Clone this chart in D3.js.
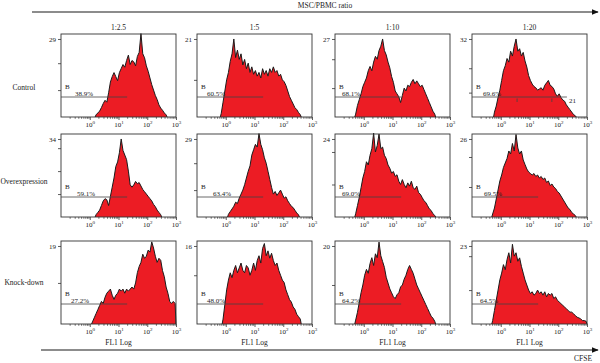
<!DOCTYPE html>
<html>
<head>
<meta charset="utf-8">
<script src="https://cdn.jsdelivr.net/npm/d3@7"></script>
<style>
  body { margin: 0; background: #fff; }
  svg text { font-family: "Liberation Serif", "Times New Roman", serif; fill: #222; }
</style>
</head>
<body>
<svg id="chart" width="600" height="363"></svg>
<script>
// column / row headings
const ratios = ["1:2.5", "1:5", "1:10", "1:20"];
const groups = ["Control", "Overexpression", "Knock-down"];
// max count printed on each y axis
const yMaxLabel = [[29, 21, 27, 32], [34, 29, 24, 26], [19, 16, 20, 23]];
// percent inside gate B
const gateLabel = [
    ["38.9%", "60.5%", "68.1%", "69.6%"],
    ["59.1%", "63.4%", "69.0%", "69.5%"],
    ["27.2%", "48.0%", "64.2%", "64.5%"]
];
// right end of gate B (FL1 value)
const gateEnd = [[20, 20, 20, 200], [20, 20, 20, 20], [20, 20, 20, 20]];
const decades = [1, 10, 100, 1000];
const decadeExp = ["0", "1", "2", "3"];

// histogram counts, 16 channels per decade starting at 10^-1
const firstBin = [[19, 13, 11, 12], [19, 17, 11, 11], [17, 14, 11, 11]];

const control_2_5 = [0.8, 1.5, 2.2, 3.5, 5, 6.2, 5.5, 9, 13, 15, 16.5, 15, 13.5, 16.5, 18, 19.5, 18.5, 21, 23, 19.5,
    21, 20.5, 19, 22.5, 24, 31, 23.5, 22, 19, 17, 14.5, 12, 10, 8, 6.5, 4.5, 3.3, 2.5, 1.5, 0.8];
const control_5 = [1, 4, 7, 10, 12, 15, 17, 21, 16, 18, 15.5, 17, 14, 15.5, 13, 14.5, 12, 13.5, 11.5, 12.5,
    11, 12, 10.5, 13, 11.5, 12.5, 11, 13, 12, 13.5, 12, 12.5, 11, 11.5, 10, 9.5, 8.5, 7, 5.5, 4.5, 3.5, 2.5, 2, 1.2, 0.6];
const control_10 = [1, 4, 6, 8, 10.5, 12, 13.5, 16, 17.5, 16, 19, 21, 20, 23, 24.5, 27, 23, 21.5, 19, 17,
    14, 12, 9, 8, 7, 5, 7.5, 10, 9, 11, 10.5, 12, 13, 11.5, 12.5, 11.5, 10.5, 11, 9.5, 8, 6.5, 5, 3.5, 2, 1];
const control_20 = [2, 4.5, 8, 11, 15, 19, 21, 24, 22.5, 27, 25, 29, 32, 27, 28, 25, 26.5, 23, 20.5, 17,
    15, 13.5, 12.5, 12, 11, 11.5, 12, 11, 13, 14, 15, 13, 12.5, 11.5, 9.5, 8.5, 9.5, 8, 7, 6.5, 5, 4, 3, 2, 1, 0.5];

const over_2_5 = [1, 2, 3, 5, 7, 8, 7.5, 5, 9, 13, 17, 22, 24, 28, 34, 29, 27, 25, 20, 14,
    13, 14, 15.5, 14.5, 15, 13.5, 12, 11, 10, 9, 8, 7, 5.5, 4.5, 3, 2, 1];
const over_5 = [1, 2, 3, 4, 5.5, 5, 7, 8.5, 10, 12, 14.5, 17, 19, 23, 25, 27, 26, 31, 27, 25,
    22, 20, 17, 14, 11, 8.5, 9.5, 8, 9, 10, 8.5, 7, 7.5, 6, 5, 4, 3.5, 2.5, 1.5, 0.8];
const over_10 = [1, 3.5, 6, 9, 12, 14, 17, 16, 19, 21, 25.8, 20, 22, 25.5, 21, 21.5, 19, 18, 16, 15,
    13.5, 14, 12.5, 13, 11, 10, 11.5, 10, 9, 10.5, 9.5, 11, 9, 8.5, 9.5, 7.5, 7, 6, 5, 4.5, 3.5, 2.5, 2, 1, 0.5];
const over_20 = [1, 3, 6, 9, 12, 14, 16.5, 18, 19.5, 22, 21, 24.5, 22, 27.5, 23, 21, 22, 19, 17.5, 16,
    15, 14.5, 14, 14.5, 13.5, 14, 13, 13.5, 12.5, 13, 11.5, 12, 10.5, 11, 10, 9.5, 8.5, 8, 7, 6, 5, 4, 3, 2.5, 1.5, 1, 0.5];

const knock_2_5 = [0.5, 1.5, 2.5, 3.5, 4.5, 5.5, 5, 6.5, 7.5, 8, 8.5, 7, 6, 7, 7.5, 8.5, 8, 8.5, 7.5, 8.5,
    8, 8.5, 9, 8.5, 10, 12.5, 14, 15, 17, 16, 16.5, 18, 17.5, 20, 18.5, 16.5, 15, 16, 15.5, 13,
    11.5, 9, 7.5, 5.5, 5, 5.5, 5];
const knock_5 = [1, 4, 7, 9, 10.5, 9.5, 11, 12, 10.5, 11.5, 12.5, 11, 10.5, 12, 11.5, 10, 11, 12.5, 11, 13,
    14, 12.5, 15.5, 16.5, 14, 15, 13.5, 14.5, 13, 12, 12.5, 11, 10, 9, 8.5, 7, 6, 5, 4.5, 3.5, 3, 2, 1.5, 1];
const knock_10 = [1, 3, 5.5, 8, 10, 12.5, 14, 13, 15.5, 17, 15, 18, 17, 21, 17.5, 16, 14.5, 12, 10.5, 9,
    8, 7, 6.5, 7.5, 8, 9.5, 10, 11.5, 12.5, 14, 15, 14, 13, 11.5, 10, 9, 8, 7, 6, 5, 4, 3, 2, 1.5, 0.7];
const knock_20 = [1, 4, 7, 10, 13, 15, 17.5, 16, 19, 21, 18, 23.5, 20, 21, 18.5, 19.5, 17, 15, 13, 11.5,
    10, 9, 9.5, 8.5, 9, 10, 9, 9.5, 8.5, 9.5, 8, 9, 8.5, 9, 7.5, 8, 7, 6.5, 6, 5.5,
    5, 4.5, 4, 3.5, 3.5, 3, 2.5, 2, 1.8, 1.5, 1, 1, 0.8];

const counts = [
    [control_2_5, control_5, control_10, control_20],
    [over_2_5, over_5, over_10, over_20],
    [knock_2_5, knock_5, knock_10, knock_20]
];

// layout
const colX = [61, 197, 335, 472], rowY = [34, 134, 241];
const pw = 115, ph = 83;
const rowLabelY = [90, 184, 285];
const pctDx = [[14, 10, 7, 11], [16, 16, 7, 12], [10, 10, 7, 8]];

const svg = d3.select("#chart");

// arrowhead
svg.append("defs").append("marker")
    .attr("id", "arr")
    .attr("viewBox", "0 0 10 10")
    .attr("refX", 9).attr("refY", 5)
    .attr("markerWidth", 5).attr("markerHeight", 5)
    .attr("orient", "auto")
    .append("path").attr("d", "M0,1L10,5L0,9Z").attr("fill", "#111");

//top arrow
svg.append("line")
    .attr("x1", 32).attr("x2", 598).attr("y1", 12).attr("y2", 12)
    .attr("stroke", "#666").attr("stroke-width", 1.4)
    .attr("marker-end", "url(#arr)");
svg.append("text").attr("x", 325).attr("y", 8).attr("text-anchor", "middle")
    .attr("font-size", 7.5).text("MSC/PBMC ratio");

//bottom arrow
svg.append("line")
    .attr("x1", 41).attr("x2", 598).attr("y1", 350).attr("y2", 350)
    .attr("stroke", "#666").attr("stroke-width", 1.4)
    .attr("marker-end", "url(#arr)");
svg.append("text").attr("x", 583).attr("y", 361).attr("text-anchor", "middle")
    .attr("font-size", 7.5).text("CFSE");

//column titles
ratios.forEach(function(rt, c){
    svg.append("text")
        .attr("x", colX[c] + pw / 2).attr("y", 30)
        .attr("text-anchor", "middle").attr("font-size", 7.5)
        .text(rt);
});

//row labels
groups.forEach(function(g, r){
    svg.append("text")
        .attr("x", 24).attr("y", rowLabelY[r])
        .attr("text-anchor", "middle").attr("font-size", 7.5)
        .text(g);
});

// minor log ticks
let minor = [];
[0.1, 1, 10, 100].forEach(function(d){
    for (let m = 2; m < 10; m++) minor.push(d * m);
});

groups.forEach(function(g, r){
    ratios.forEach(function(rt, c){
        const left = colX[c], top = rowY[r];
        const xs = d3.scaleLog().domain([0.1, 1000]).range([left, left + pw]);
        const yMax = yMaxLabel[r][c];
        const ys = d3.scaleLinear().domain([0, yMax / 0.94]).range([top + ph, top]);
        const vals = counts[r][c], k0 = firstBin[r][c];
        const chan = k => xs(Math.pow(10, -1 + k / 16));

        //histogram points at channel centres
        let pts = [[k0, 0]];
        vals.forEach(function(v, i){ pts.push([k0 + i + 0.5, v]); });
        pts.push([k0 + vals.length, 0]);

        const panel = svg.append("g").attr("class", "panel");

        panel.append("path")
            .datum(pts)
            .attr("fill", "#ec1c24")
            .attr("d", d3.area().x(d => chan(d[0])).y0(top + ph).y1(d => ys(d[1])));
        panel.append("path")
            .datum(pts)
            .attr("fill", "none")
            .attr("stroke", "#1b1b1b")
            .attr("stroke-width", 1)
            .attr("stroke-linejoin", "round")
            .attr("d", d3.line().x(d => chan(d[0])).y(d => ys(d[1])));

        //box
        panel.append("rect")
            .attr("x", left).attr("y", top).attr("width", pw).attr("height", ph)
            .attr("fill", "none").attr("stroke", "#333").attr("stroke-width", 0.9);

        //x axis minor + major
        const gx = panel.append("g").attr("transform", "translate(0," + (top + ph) + ")");
        gx.call(d3.axisBottom(xs).tickValues(minor).tickSize(1.8).tickFormat(""));
        gx.select(".domain").remove();
        const gx2 = panel.append("g").attr("transform", "translate(0," + (top + ph) + ")");
        gx2.call(d3.axisBottom(xs).tickValues(decades).tickSize(3).tickPadding(2).tickFormat(""));
        gx2.select(".domain").remove();
        gx.selectAll("line").attr("stroke", "#333").attr("stroke-width", 0.7);
        gx2.selectAll("line").attr("stroke", "#333").attr("stroke-width", 0.8);
        gx2.selectAll(".tick text")
            .attr("font-size", 7)
            .attr("font-family", "Liberation Serif")
            .attr("fill", "#222")
            .each(function(d, i){
                const t = d3.select(this);
                t.text("10");
                t.append("tspan").attr("dy", -3).attr("font-size", 5).text(decadeExp[i]);
            });

        //y axis
        let yt = d3.range(10, yMax - 2, 10);
        yt.push(yMax);
        const gy = panel.append("g").attr("transform", "translate(" + left + ",0)");
        gy.call(d3.axisLeft(ys).tickValues(yt).tickSize(3).tickPadding(2)
            .tickFormat(d => d === yMax ? d : ""));
        gy.select(".domain").remove();
        gy.selectAll("line").attr("stroke", "#333").attr("stroke-width", 0.8);
        gy.selectAll("text").attr("font-size", 7).attr("font-family", "Liberation Serif").attr("fill", "#222");

        //gate B
        const gy0 = top + ph - 20;
        panel.append("line")
            .attr("x1", left).attr("x2", xs(gateEnd[r][c]))
            .attr("y1", gy0).attr("y2", gy0)
            .attr("stroke", "#444").attr("stroke-width", 0.8);
        panel.append("text").attr("x", left + 4).attr("y", gy0 - 8)
            .attr("font-size", 7).text("B");
        panel.append("text").attr("x", left + pctDx[r][c]).attr("y", gy0 - 1.5)
            .attr("font-size", 7).text(gateLabel[r][c]);

        if (r === 0 && c === 3) {
            //extra marks on this gate
            [3.7, 60].forEach(function(v){
                panel.append("line")
                    .attr("x1", xs(v)).attr("x2", xs(v))
                    .attr("y1", gy0 + 1.5).attr("y2", gy0 + 5)
                    .attr("stroke", "#444").attr("stroke-width", 0.8);
            });
            panel.append("text").attr("x", xs(200) + 2).attr("y", gy0 + 6)
                .attr("font-size", 7).text("21");
        }

        if (r === 2) {
            svg.append("text")
                .attr("x", left + pw / 2).attr("y", 345)
                .attr("text-anchor", "middle").attr("font-size", 7.5)
                .text("FL1 Log");
        }
    });
});
</script>
</body>
</html>
